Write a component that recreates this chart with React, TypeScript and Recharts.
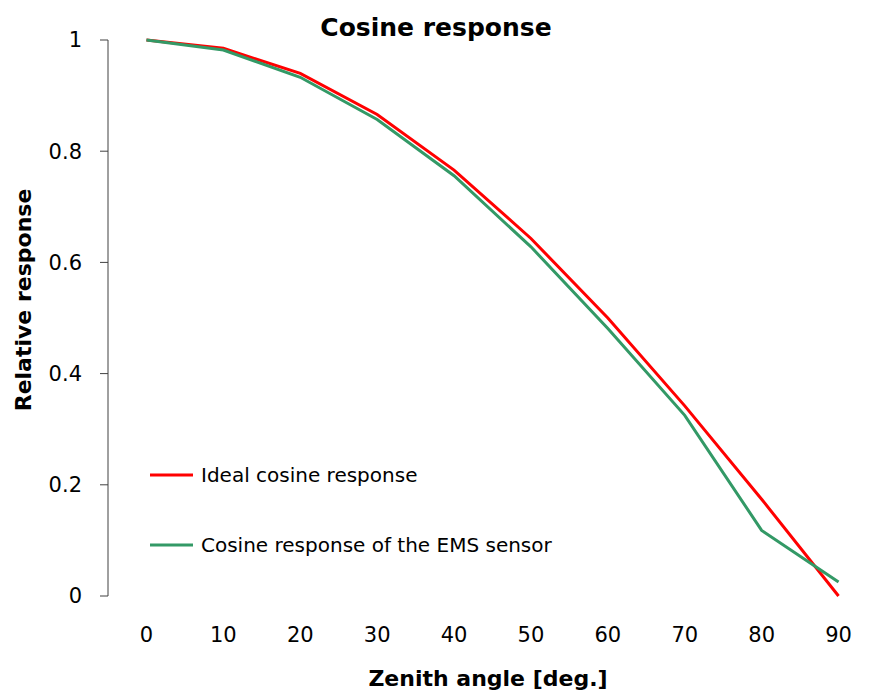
import React from 'react';
import { LineChart, Line, XAxis, YAxis, Legend } from 'recharts';

// Zenith angles (deg) and responses
const angles = [0, 10, 20, 30, 40, 50, 60, 70, 80, 90];
const idealResponse = [1, 0.985, 0.94, 0.866, 0.766, 0.643, 0.5, 0.342, 0.174, 0];
const sensorResponse = [1, 0.982, 0.933, 0.857, 0.756, 0.628, 0.481, 0.325, 0.118, 0.025];

// tick marks sit between categories, like a spreadsheet category axis
const boundaryTicks = [-5, 5, 15, 25, 35, 45, 55, 65, 75, 85, 95];
const yTicks = [0, 0.2, 0.4, 0.6, 0.8, 1];

const data = angles.map((a, i) => ({
  angle: a,
  ideal: idealResponse[i],
  sensor: sensorResponse[i],
}));

const FONT = '"DejaVu Sans", Verdana, sans-serif';
const AXIS = '#404040';
const RED = '#ff0000';
const GREEN = '#339966';

const legendItems = [
  { label: 'Ideal cosine response', color: RED },
  { label: 'Cosine response of the EMS sensor', color: GREEN },
];

const LegendBox = () => (
  <div style={{ fontFamily: FONT, fontSize: 20, color: '#000' }}>
    {legendItems.map((it) => (
      <div key={it.label} style={{ display: 'flex', alignItems: 'center', height: 70 }}>
        <svg width={47} height={6} style={{ marginRight: 4 }}>
          <line x1={0} y1={3} x2={43} y2={3} stroke={it.color} strokeWidth={3} />
        </svg>
        <span>{it.label}</span>
      </div>
    ))}
  </div>
);

export default function App() {
  return (
    <div style={{ position: 'absolute', left: 0, top: 0, width: 872, height: 695, overflow: 'hidden', background: '#fff' }}>
      <LineChart
        width={880}
        height={695}
        data={data}
        margin={{ top: 40, right: 3, bottom: 59, left: 48 }}
      >
        <XAxis
          xAxisId="marks"
          dataKey="angle"
          type="number"
          domain={[-5, 95]}
          ticks={boundaryTicks}
          tick={false}
          tickSize={8}
          height={0}
          stroke={AXIS}
          axisLine={{ stroke: AXIS, strokeWidth: 1 }}
          tickLine={{ stroke: AXIS }}
        />
        <XAxis
          xAxisId="labels"
          dataKey="angle"
          type="number"
          domain={[-5, 95]}
          ticks={angles}
          axisLine={false}
          tickLine={false}
          tickSize={8}
          tickMargin={23}
          height={40}
          tick={{ fontFamily: FONT, fontSize: 21, fill: '#000' }}
        />
        <YAxis
          domain={[0, 1]}
          ticks={yTicks}
          width={60}
          tickSize={8}
          tickMargin={18}
          stroke={AXIS}
          tickFormatter={(v: number) => String(v)}
          tick={{ fontFamily: FONT, fontSize: 21, fill: '#000' }}
        />
        <Legend
          layout="vertical"
          verticalAlign="middle"
          align="center"
          content={<LegendBox />}
          wrapperStyle={{ position: 'absolute', left: 150, top: 440, width: 'auto' }}
        />
        <Line
          xAxisId="labels"
          type="linear"
          dataKey="ideal"
          name="Ideal cosine response"
          stroke={RED}
          strokeWidth={3}
          dot={false}
          isAnimationActive={false}
        />
        <Line
          xAxisId="labels"
          type="linear"
          dataKey="sensor"
          name="Cosine response of the EMS sensor"
          stroke={GREEN}
          strokeWidth={3}
          dot={false}
          isAnimationActive={false}
        />
      </LineChart>
      <svg
        width={872}
        height={695}
        style={{ position: 'absolute', left: 0, top: 0, pointerEvents: 'none' }}
      >
        <text x={436} y={36} textAnchor="middle" fontFamily={FONT} fontSize={25} fontWeight="bold">
          Cosine response
        </text>
        <text
          x={0}
          y={0}
          transform="translate(31,300) rotate(-90)"
          textAnchor="middle"
          fontFamily={FONT}
          fontSize={22}
          fontWeight="bold"
        >
          Relative response
        </text>
        <text x={488} y={686} textAnchor="middle" fontFamily={FONT} fontSize={22} fontWeight="bold">
          Zenith angle [deg.]
        </text>
      </svg>
    </div>
  );
}
